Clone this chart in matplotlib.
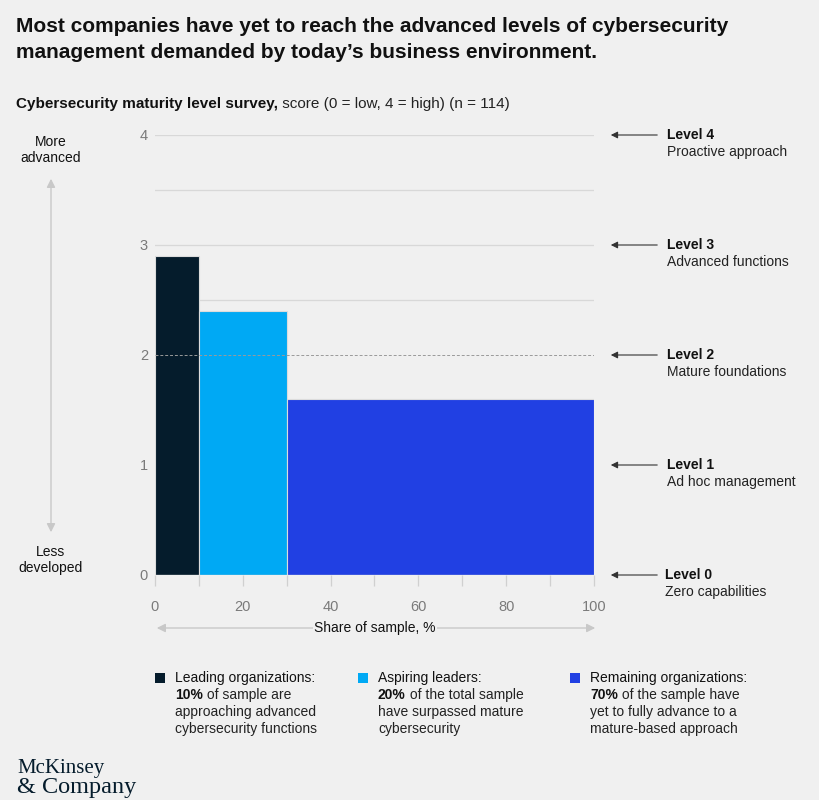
import numpy as np
import matplotlib
matplotlib.use("Agg")
import matplotlib.pyplot as plt

# data
groups = ["Leading organizations:", "Aspiring leaders:", "Remaining organizations:"]
shares = [10, 20, 70]
scores = [2.9, 2.4, 1.6]
colors = ["#051c2c", "#00a9f4", "#2140e3"]
group_pct = ["10%", "20%", "70%"]
group_rest = [
    [" of sample are", "approaching advanced", "cybersecurity functions"],
    [" of the total sample", "have surpassed mature", "cybersecurity"],
    [" of the sample have", "yet to fully advance to a", "mature-based approach"],
]
levels = [0, 1, 2, 3, 4]
level_desc = ["Zero capabilities", "Ad hoc management", "Mature foundations",
              "Advanced functions", "Proactive approach"]
xticks = [0, 20, 40, 60, 80, 100]

plt.rcParams["font.family"] = ["Liberation Sans", "DejaVu Sans"]
BG = "#f0f0f0"
GRAY = "#7a7a7a"

fig = plt.figure(figsize=(8.2, 8.0), dpi=100, facecolor=BG)
W, H = 820, 800


def fx(px):
    return px / W


def fy(py):
    return 1 - py / H


ax = fig.add_axes([fx(155), fy(575), fx(594) - fx(155), fy(135) - fy(575)])
ax.set_facecolor(BG)

lefts = np.concatenate([[0], np.cumsum(shares)[:-1]])
ax.bar(lefts, scores, width=shares, align="edge", color=colors,
       edgecolor="#dcdcdc", linewidth=0.8, zorder=3)

ax.set_xlim(0, 100)
ax.set_ylim(0, 4)
for s in ax.spines.values():
    s.set_visible(False)

# grid lines every 0.5, dashed at level 2
for yv in np.arange(0.5, 4.01, 0.5):
    if yv == 2:
        ax.axhline(yv, color="#9a9a9a", lw=0.7, ls=(0, (3, 2)), zorder=4)
    else:
        ax.axhline(yv, color="#d8d8d8", lw=0.9, zorder=1)
ax.axhline(0, color="#d0d0d0", lw=0.9, zorder=4)

ax.set_xticks(xticks)
ax.set_xticks(np.arange(10, 100, 20), minor=True)
ax.set_yticks(levels)
ax.tick_params(axis="x", which="both", length=8, color="#d0d0d0", width=0.9,
               labelsize=10.5, labelcolor=GRAY, pad=10)
ax.tick_params(axis="y", length=0, labelsize=10.5, labelcolor=GRAY, pad=5)

# title and subtitle
fig.text(fx(16), fy(17), "Most companies have yet to reach the advanced levels of cybersecurity\n"
         "management demanded by today\u2019s business environment.",
         fontsize=15, fontweight="bold", color="#111111", va="top",
         linespacing=1.45)
t = fig.text(fx(16), fy(108), "Cybersecurity maturity level survey,", fontsize=11,
             fontweight="bold", color="#111111", va="baseline")
fig.canvas.draw()
ax.annotate(" score (0 = low, 4 = high) (n = 114)", xy=(1, 0), xycoords=t,
            fontsize=11, color="#222222", va="bottom", annotation_clip=False)

# left direction arrow
fig.patches.append(matplotlib.patches.FancyArrowPatch(
    (fx(51), fy(535)), (fx(51), fy(176)), transform=fig.transFigure,
    arrowstyle="<|-|>,head_length=5,head_width=2.5", color="#c8c8c8", lw=1.0))
fig.text(fx(51), fy(150), "More\nadvanced", ha="center", va="center", fontsize=10,
         color="#111111", linespacing=1.25)
fig.text(fx(51), fy(560), "Less\ndeveloped", ha="center", va="center", fontsize=10,
         color="#111111", linespacing=1.25)

# bottom direction arrow
fig.patches.append(matplotlib.patches.FancyArrowPatch(
    (fx(154), fy(628)), (fx(598), fy(628)), transform=fig.transFigure,
    arrowstyle="<|-|>,head_length=5,head_width=2.5", color="#c8c8c8", lw=1.0))
fig.text(fx(375), fy(628), "Share of sample, %", ha="center", va="center",
         fontsize=10, color="#111111",
         bbox=dict(facecolor=BG, edgecolor="none", pad=1))

# right level markers
for lv, desc in zip(levels, level_desc):
    yp = ax.transData.transform((0, lv))[1]
    fig.patches.append(matplotlib.patches.FancyArrowPatch(
        (fx(660), yp / H), (fx(608), yp / H), transform=fig.transFigure,
        arrowstyle="-|>,head_length=4,head_width=2", color="#333333", lw=0.8))
    lx = fx(665) if lv == 0 else fx(667)
    fig.text(lx, yp / H, f"Level {lv}", fontsize=10, fontweight="bold",
             color="#111111", va="center")
    fig.text(lx, yp / H - 17 / H, desc, fontsize=10, color="#222222",
             va="center")

# legend
leg_x = [155, 358, 570]
for i in range(3):
    x0 = leg_x[i]
    fig.patches.append(matplotlib.patches.Rectangle(
        (fx(x0), fy(683)), 10 / W, 10 / H, transform=fig.transFigure,
        facecolor=colors[i], edgecolor="none"))
    tx = fx(x0 + 20)
    fig.text(tx, fy(682), groups[i], fontsize=10, color="#111111", va="baseline")
    b = fig.text(tx, fy(699), group_pct[i], fontsize=10, fontweight="bold",
                 color="#111111", va="baseline")
    ax.annotate(group_rest[i][0], xy=(1, 0), xycoords=b, fontsize=10,
                color="#222222", va="bottom", annotation_clip=False)
    for j, line in enumerate(group_rest[i][1:]):
        fig.text(tx, fy(716 + 17 * j), line, fontsize=10, color="#222222",
                 va="baseline")

# logo
fig.text(fx(17), fy(773), "McKinsey", fontsize=15, family="Liberation Serif",
         color="#051c2c", va="baseline")
fig.text(fx(17), fy(793), "& Company", fontsize=17.5, family="Liberation Serif",
         color="#051c2c", va="baseline")

fig.savefig("out.png", dpi=100, facecolor=BG)
